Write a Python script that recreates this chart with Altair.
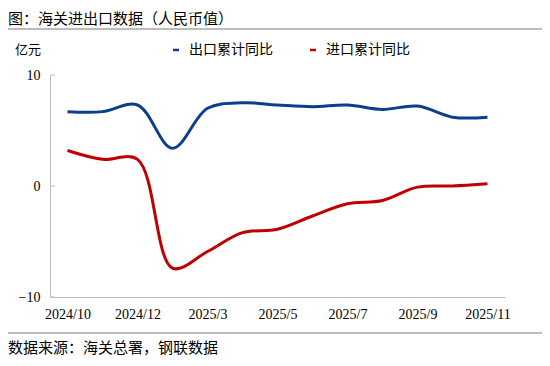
import altair as alt
import pandas as pd

months = ["2024/10", "2024/11", "2024/12", "2025/2", "2025/3", "2025/4", "2025/5",
          "2025/6", "2025/7", "2025/8", "2025/9", "2025/10", "2025/11"]
export_yoy = [6.7, 6.7, 7.3, 3.4, 7.0, 7.5, 7.3, 7.15, 7.3, 6.9, 7.2, 6.2, 6.2]
import_yoy = [3.2, 2.4, 2.4, -7.4, -5.9, -4.2, -3.9, -2.7, -1.6, -1.3, -0.1, 0.0, 0.2]
series_names = ["出口累计同比", "进口累计同比"]
series_colors = ["#0a3f8c", "#c00000"]
x_tick_labels = ["2024/10", "2024/12", "2025/3", "2025/5", "2025/7", "2025/9", "2025/11"]
y_ticks = [-10, 0, 10]
title_text = "图：海关进出口数据（人民币值）"
unit_text = "亿元"
source_text = "数据来源：海关总署，钢联数据"

CJK = "Noto Sans CJK SC"
SERIF = "Liberation Serif"
GRAY = "#bfbfbf"

df = pd.DataFrame({
    "month": months * 2,
    "value": export_yoy + import_yoy,
    "series": [series_names[0]] * len(months) + [series_names[1]] * len(months),
})

x_enc = alt.X(
    "month:N", sort=months,
    scale=alt.Scale(type="point", padding=0.5),
    axis=alt.Axis(values=x_tick_labels, labelAngle=0, ticks=False, domainColor=GRAY,
                  labelFont=SERIF, labelFontSize=14, labelColor="#000",
                  labelPadding=10, title=None, grid=False),
)
y_enc = alt.Y(
    "value:Q",
    scale=alt.Scale(domain=[-10, 10], nice=False, zero=False),
    axis=alt.Axis(values=y_ticks, ticks=False, domainColor=GRAY, grid=False,
                  labelFont=SERIF, labelFontSize=14, labelColor="#000",
                  labelPadding=10, title=None),
)

lines = alt.Chart(df).mark_line(strokeWidth=3, interpolate="catmull-rom").encode(
    x=x_enc, y=y_enc,
    color=alt.Color(
        "series:N",
        scale=alt.Scale(domain=series_names, range=series_colors),
        legend=alt.Legend(orient="none", legendX=119, legendY=-32, direction="horizontal",
                          symbolType="stroke", symbolSize=36, symbolStrokeWidth=2.5,
                          labelFont=CJK, labelFontSize=14, labelColor="#000",
                          title=None, columnPadding=32, labelOffset=6),
        sort=series_names,
    ),
)

ticks = alt.Chart(pd.DataFrame({"v": y_ticks})).mark_rule(color=GRAY, strokeWidth=1).encode(
    y=alt.Y("v:Q"), x=alt.value(0), x2=alt.value(5)
)

one = pd.DataFrame({"t": [title_text], "u": [unit_text], "s": [source_text]})

title = alt.Chart(one).mark_text(align="left", baseline="middle", font=CJK,
                                 fontSize=15, color="#000").encode(
    x=alt.value(-42), y=alt.value(-56), text="t:N")
unit = alt.Chart(one).mark_text(align="left", baseline="middle", font=CJK,
                                fontSize=13, color="#000").encode(
    x=alt.value(-35), y=alt.value(-25), text="u:N")
source = alt.Chart(one).mark_text(align="left", baseline="middle", font=CJK,
                                  fontSize=15, color="#000").encode(
    x=alt.value(-42), y=alt.value(273), text="s:N")
sep_top = alt.Chart(one).mark_rule(color="#a6a6a6", strokeWidth=1.5).encode(
    x=alt.value(-42), x2=alt.value(492), y=alt.value(-46))
sep_bottom = alt.Chart(one).mark_rule(color="#a6a6a6", strokeWidth=1.5).encode(
    x=alt.value(-42), x2=alt.value(492), y=alt.value(258))

chart = alt.layer(lines, ticks, title, unit, source, sep_top, sep_bottom).properties(
    width=455, height=222,
    autosize=alt.AutoSizeParams(type="none"),
    padding={"left": 42, "top": 67, "right": 37, "bottom": 60},
).configure_view(stroke=None)

chart.save("out.html", embed_options={"renderer": "svg", "actions": False})
